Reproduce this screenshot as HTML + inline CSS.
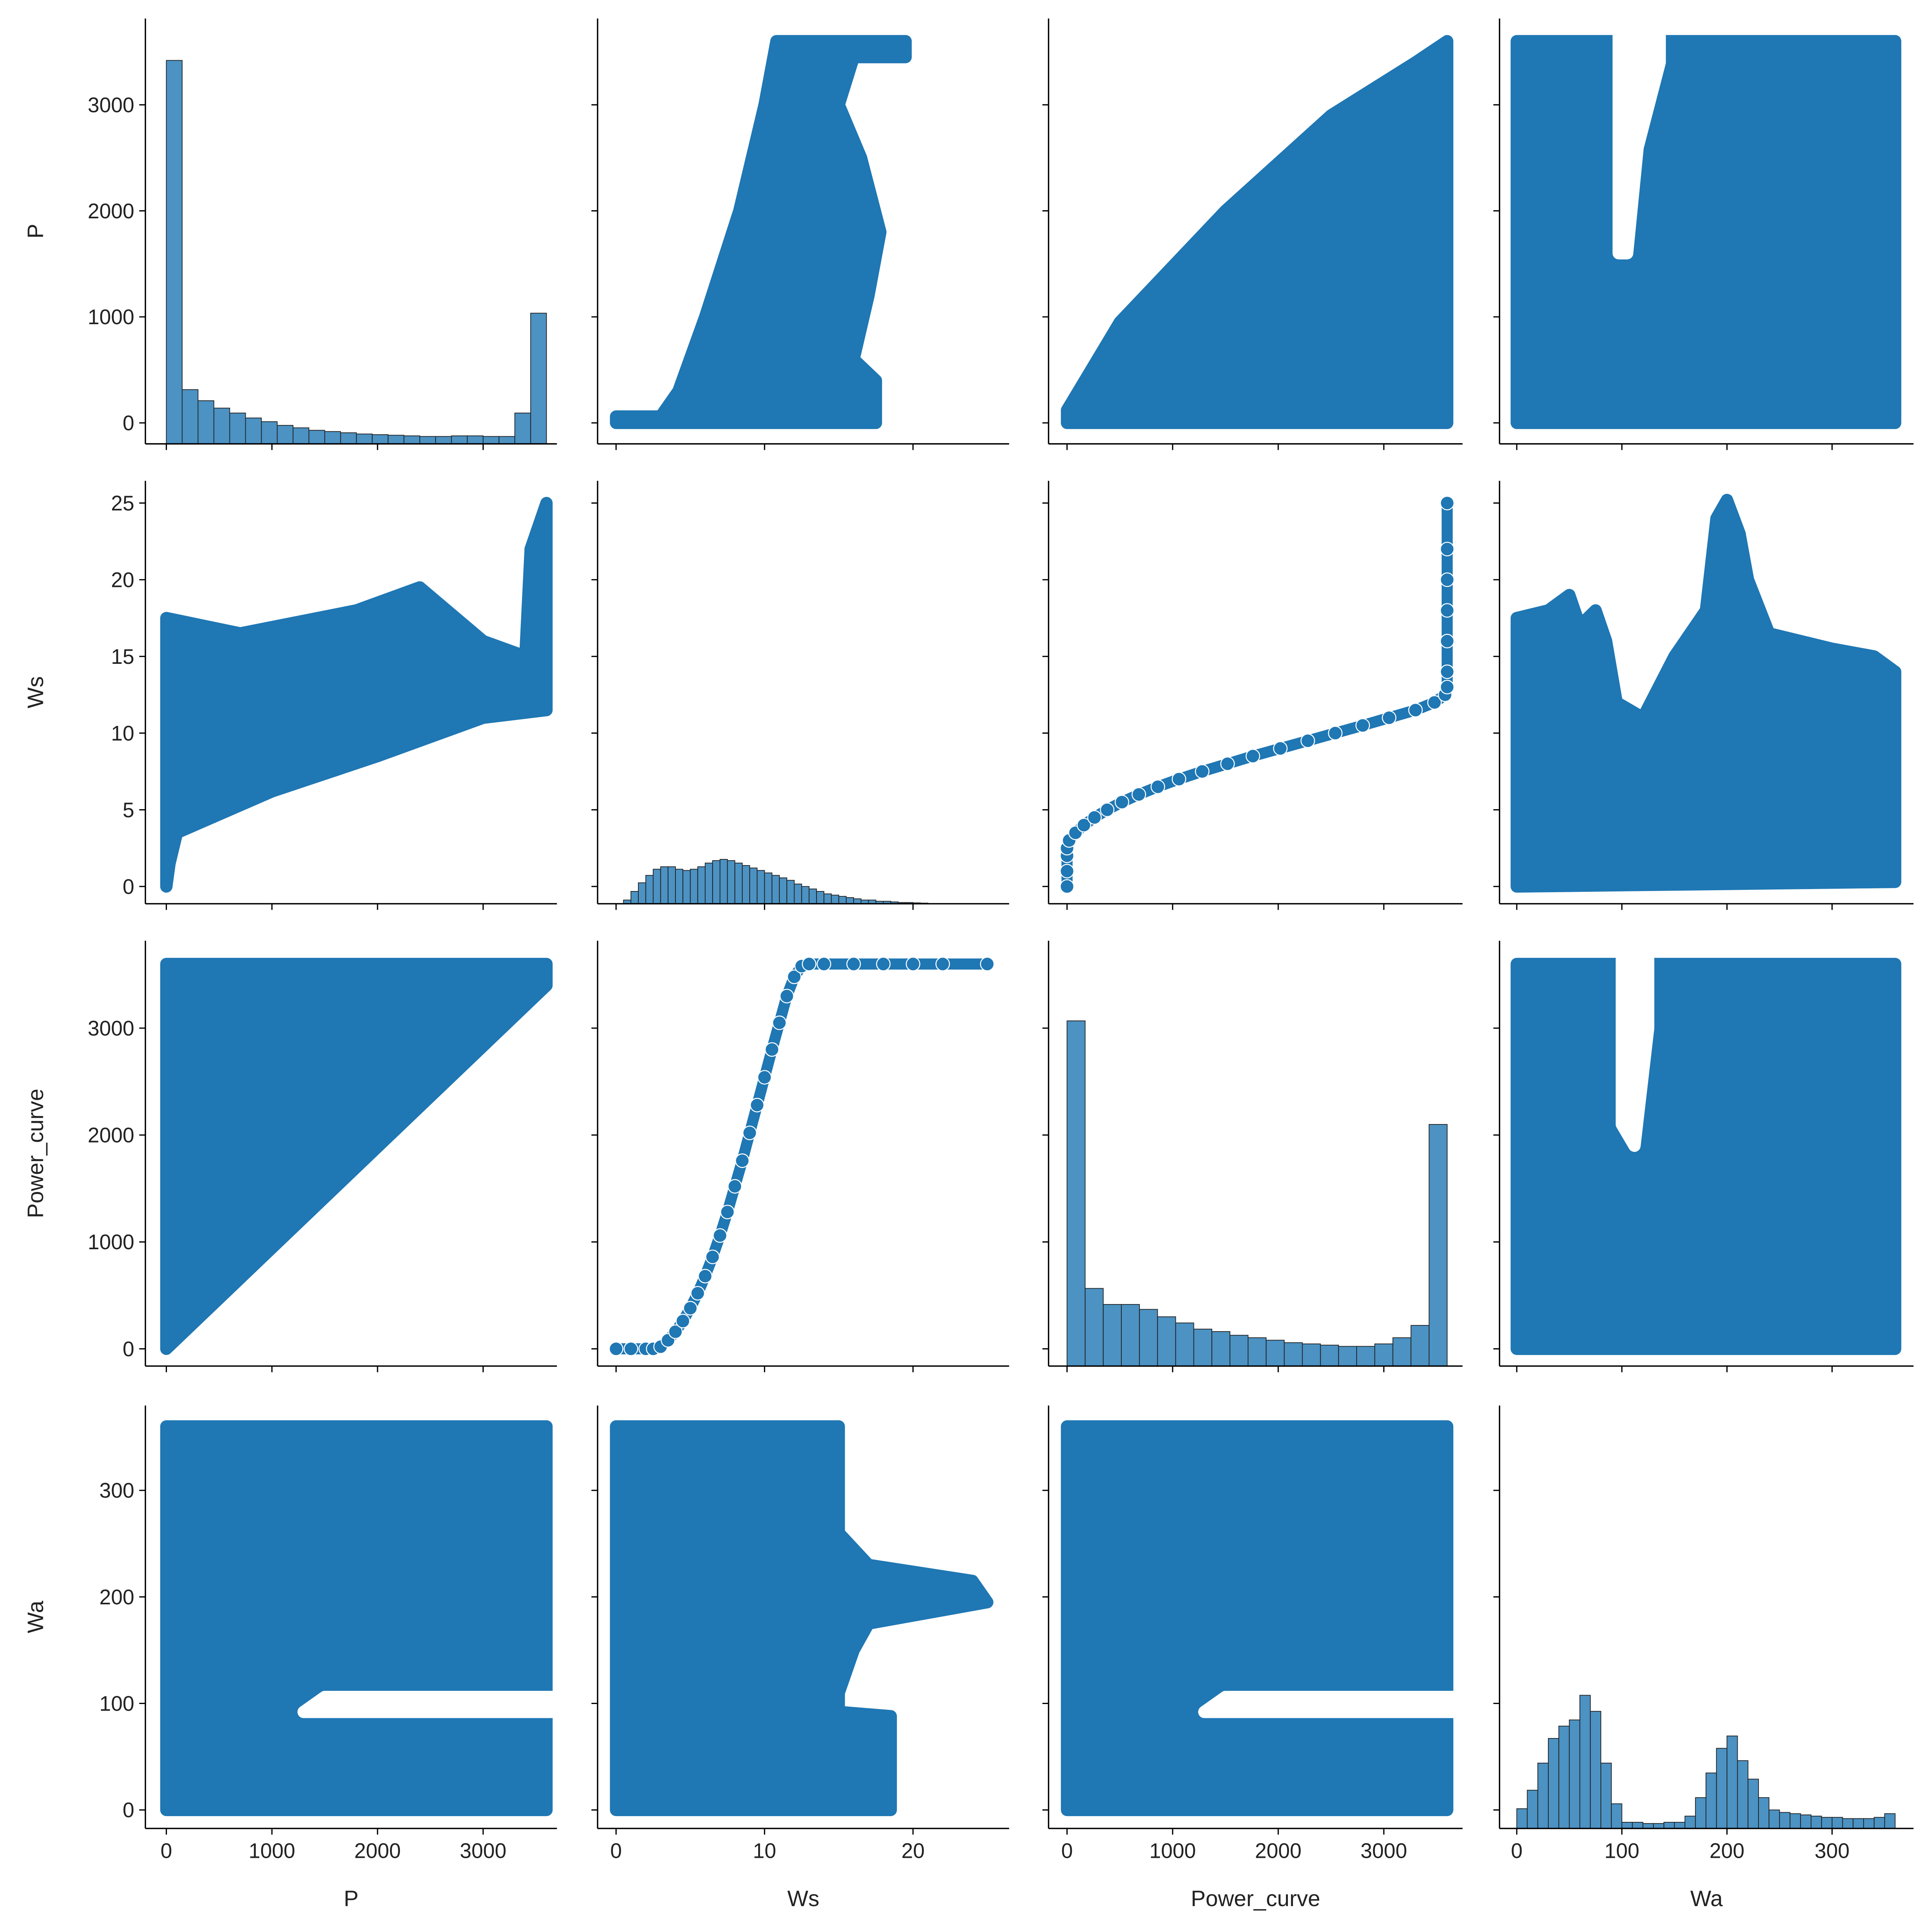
<!DOCTYPE html>
<html><head><meta charset="utf-8"><style>
html,body{margin:0;padding:0;background:#fff;width:100%;height:100%;overflow:hidden;}
#chart{display:block;width:100vw;height:100vh;}
text{font-family:"Liberation Sans","DejaVu Sans",sans-serif;fill:#222;}
</style></head><body>
<svg id="chart" viewBox="0 0 1568 1567" preserveAspectRatio="none" xmlns="http://www.w3.org/2000/svg"><g id="root"></g></svg>
<script>
// ---------- data ----------
const variables = ["P","Ws","Power_curve","Wa"];
const pTicks = [0,1000,2000,3000];
const wsTicks = [0,5,10,15,20,25];
const wsXTicks = [0,10,20];
const waTicks = [0,100,200,300];
const pHistCounts = [3110,440,350,290,250,210,180,150,130,110,100,90,80,75,70,65,60,60,65,65,60,60,250,1060];
const wsHistCounts = [3,10,17,23,28,30,30,28,27,28,30,33,35,36,35,33,31,29,27,25,23,21,19,16,14,12,10,8,7,6,5,4,3,3,2,2,1.5,1,1,0.7,0.5];
const pcHistCounts = [2800,630,500,500,460,400,350,300,280,250,230,210,190,180,170,160,160,180,230,330,1960];
const waHistCounts = [16,31,53,73,83,88,108,95,53,20,5,5,4,4,5,5,10,25,45,65,75,55,40,25,15,13,12,11,10,9,9,8,8,8,9,12];
const curveWs = [0,1,2,2.5,3,3.5,4,4.5,5,5.5,6,6.5,7,7.5,8,8.5,9,9.5,10,10.5,11,11.5,12,12.5,13,14,16,18,20,22,25];
const curvePC = [0,0,0,0,20,80,160,260,380,520,680,860,1060,1280,1520,1760,2020,2280,2540,2800,3050,3300,3480,3580,3600,3600,3600,3600,3600,3600,3600];
const regWsP = [[0,0],[17.5,0],[17.5,400],[16,600],[17,1200],[17.8,1800],[16.5,2500],[15,3000],[16,3450],[19.5,3450],[19.5,3600],[10.8,3600],[10,3000],[8.3,2000],[6,1000],[4.2,300],[3,60],[0,60]];
const regPCP = [[0,0],[3600,0],[3600,3600],[3300,3400],[2500,2900],[1500,2000],[500,950],[0,120]];
const regWaP = [[0,0],[360,0],[360,3600],[0,3600]];
const gapWaP = [[97,3650],[136,3650],[136,3400],[115,2600],[105,1600],[97,1600]];
const regPWs = [[0,0],[0,17.5],[700,16.5],[1800,18],[2400,19.5],[3000,16],[3400,15],[3450,22],[3600,25],[3600,11.5],[3000,11],[2000,8.5],[1000,6.2],[500,4.7],[100,3.5],[30,1.5],[0,0]];
const regWaWs = [[0,0],[0,17.5],[30,18],[50,19],[60,17],[75,18],[85,16],[95,12],[120,11],[150,15],[180,18],[190,24],[200,25.2],[212,23],[220,20],[240,16.5],[270,16],[300,15.5],[340,15],[360,14],[360,0.3]];
const regPPC = [[0,0],[3600,3400],[3600,3600],[0,3600]];
const gapWaPC = [[100,3650],[125,3650],[125,3000],[112,1900],[100,2100]];
const regPWa = [[0,0],[3600,0],[3600,360],[0,360]];
const gapPWa = [[1300,92],[3650,92],[3650,106],[1500,106]];
const regWsWa = [[0,0],[18.5,0],[18.5,88],[15,92],[15,110],[16,150],[17,175],[25,195],[24,215],[17,230],[15,260],[15,360],[0,360]];
const regPCWa = [[0,0],[3600,0],[3600,360],[0,360]];
const gapPCWa = [[1300,92],[3650,92],[3650,106],[1500,106]];

// ---------- layout ----------
const svg = document.getElementById('root');
const NS = "http://www.w3.org/2000/svg";
const BLUE = "#1f77b4";
const colX = [[118,452],[485,819],[851,1187],[1217,1553]];
const rowY = [[15,360],[390,733],[763,1108],[1140,1483]];
const xFns = [v=>135+v*0.0857, v=>500+v*12.05, v=>866+v*0.0857, v=>1231+v*0.853];
const yFns = [v=>343-v*0.086, v=>719-v*12.44, v=>1094-v*0.0867, v=>1468-v*0.864];
const xTickSets = [pTicks, wsXTicks, pTicks, waTicks];
const yTickSets = [pTicks, wsTicks, pTicks, waTicks];

function mk(tag, attrs, parent){
  const e = document.createElementNS(NS, tag);
  for (const k in attrs) e.setAttribute(k, attrs[k]);
  (parent||svg).appendChild(e);
  return e;
}
function poly(pts, xf, yf, fill, name, stroke){
  const e = mk('polygon', {points: pts.map(p=>xf(p[0])+','+yf(p[1])).join(' '), fill: fill, stroke: stroke||fill, 'stroke-width': 10, 'stroke-linejoin':'round'});
  
  
  return e;
}
function dots(pts, xf, yf, name){
  pts.forEach(p=>{
    const c = mk('circle', {cx:xf(p[0]), cy:yf(p[1]), r:5.5, fill:BLUE, stroke:'#fff', 'stroke-width':0.8});
    
    
  });
}
function hist(counts, start, width, xf, baseY, scale, name){
  counts.forEach((c,i)=>{
    const x0 = xf(start+i*width), x1 = xf(start+(i+1)*width);
    const h = c*scale;
    const r = mk('rect', {x:x0, y:baseY-h, width:x1-x0, height:h, fill:BLUE, 'fill-opacity':0.8, stroke:'#222', 'stroke-width':0.6});
    
    
  });
}
function line(pts, xf, yf, name){
  const l = mk('polyline', {points: pts.map(p=>xf(p[0])+','+yf(p[1])).join(' '), fill:'none', stroke:BLUE, 'stroke-width':9, 'stroke-linejoin':'round'});
  
  
}

// row 0 (y = P)
hist(pHistCounts, 0, 150, xFns[0], rowY[0][1], 0.1, 'hist-p-bar');
poly(regWsP, xFns[1], yFns[0], BLUE, 'scatter-ws-p');
poly(regPCP, xFns[2], yFns[0], BLUE, 'scatter-pc-p');
poly(regWaP, xFns[3], yFns[0], BLUE, 'scatter-wa-p');
poly(gapWaP, xFns[3], yFns[0], '#fff', 'gap-wa-p', '#fff');
// row 1 (y = Ws)
poly(regPWs, xFns[0], yFns[1], BLUE, 'scatter-p-ws');
hist(wsHistCounts, 0.5, 0.5, xFns[1], rowY[1][1], 1, 'hist-ws-bar');
line(curveWs.map((w,i)=>[curvePC[i], w]), xFns[2], yFns[1], 'curve-pc-ws-line');
dots(curveWs.map((w,i)=>[curvePC[i], w]), xFns[2], yFns[1], 'curve-pc-ws-point');
poly(regWaWs, xFns[3], yFns[1], BLUE, 'scatter-wa-ws');
// row 2 (y = Power_curve)
poly(regPPC, xFns[0], yFns[2], BLUE, 'scatter-p-pc');
line(curveWs.map((w,i)=>[w, curvePC[i]]), xFns[1], yFns[2], 'curve-ws-pc-line');
dots(curveWs.map((w,i)=>[w, curvePC[i]]), xFns[1], yFns[2], 'curve-ws-pc-point');
hist(pcHistCounts, 0, 3600/21, xFns[2], rowY[2][1], 0.1, 'hist-pc-bar');
poly(regWaP, xFns[3], yFns[2], BLUE, 'scatter-wa-pc');
poly(gapWaPC, xFns[3], yFns[2], '#fff', 'gap-wa-pc', '#fff');
// row 3 (y = Wa)
poly(regPWa, xFns[0], yFns[3], BLUE, 'scatter-p-wa');
poly(gapPWa, xFns[0], yFns[3], '#fff', 'gap-p-wa', '#fff');
poly(regWsWa, xFns[1], yFns[3], BLUE, 'scatter-ws-wa');
poly(regPCWa, xFns[2], yFns[3], BLUE, 'scatter-pc-wa');
poly(gapPCWa, xFns[2], yFns[3], '#fff', 'gap-pc-wa', '#fff');
hist(waHistCounts, 0, 10, xFns[3], rowY[3][1], 1, 'hist-wa-bar');

// axes
for (let r=0;r<4;r++){
  for (let c=0;c<4;c++){
    const x0 = colX[c][0], x1 = colX[c][1], y0 = rowY[r][0], y1 = rowY[r][1];
    const g = mk('g', {});
    
    
    mk('line', {x1:x0, y1:y0, x2:x0, y2:y1, stroke:'#000', 'stroke-width':1.1}, g);
    mk('line', {x1:x0, y1:y1, x2:x1, y2:y1, stroke:'#000', 'stroke-width':1.1}, g);
    yTickSets[r].forEach(v=>{
      const y = yFns[r](v);
      mk('line', {x1:x0-5, y1:y, x2:x0, y2:y, stroke:'#000', 'stroke-width':1}, g);
      if (c===0){
        const t = mk('text', {x:x0-9, y:y+6, 'font-size':17, 'text-anchor':'end'}, g);
        t.textContent = v;
        
        
      }
    });
    xTickSets[c].forEach(v=>{
      const x = xFns[c](v);
      mk('line', {x1:x, y1:y1, x2:x, y2:y1+5, stroke:'#000', 'stroke-width':1}, g);
      if (r===3){
        const t = mk('text', {x:x, y:y1+24, 'font-size':17, 'text-anchor':'middle'}, g);
        t.textContent = v;
        
        
      }
    });
  }
}
variables.forEach((v,i)=>{
  const cx = (colX[i][0]+colX[i][1])/2;
  const t = mk('text', {x:cx, y:1546, 'font-size':18, 'text-anchor':'middle'});
  t.textContent = v;
  
  
  const cy = (rowY[i][0]+rowY[i][1])/2;
  const ty = mk('text', {x:0, y:0, 'font-size':18, 'text-anchor':'middle', transform:'translate(35,'+cy+') rotate(-90)'});
  ty.textContent = v;
  
  
});
</script>
</body></html>
